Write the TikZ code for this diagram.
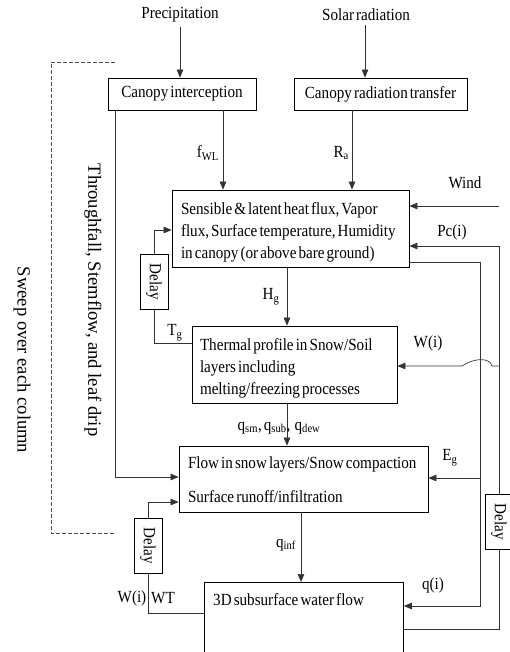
\documentclass[tikz,border=0pt]{standalone}
\usepackage{fontspec}
\setmainfont{Liberation Serif}[FakeStretch=0.89, WordSpace={0.55,0,0}]
\newfontfamily\rotfont{Liberation Serif}
\newcommand{\tightsp}{\spaceskip=0pt\xspaceskip=0pt\relax}
\newcommand{\downstrut}{\rule{0pt}{20pt}}
\usetikzlibrary{arrows.meta,calc}
\begin{document}
\begin{tikzpicture}[x=1pt,y=-1pt,
  every node/.style={font=\fontsize{17}{22}\selectfont},
  box/.style={draw, line width=0.8pt, inner sep=0pt},
  tbox/.style={box, align=left, inner ysep=0pt},
  dbox/.style={box, rotate=-90, minimum width=55pt, minimum height=28pt},
  conn/.style={line width=0.7pt, draw=black!80},
  arr/.style={conn, -{Triangle[length=8pt,width=6.5pt]}},
  lbl/.style={inner sep=0pt},
  rlbl/.style={lbl, rotate=-90, font=\rotfont\fontsize{18.6}{22}\selectfont},
  dashln/.style={line width=0.7pt, draw=black!70, dash pattern=on 4pt off 2pt}]
\clip (0,0) rectangle (510,652);
\fill[white] (0,0) rectangle (510,652);

% coordinates for x and y levels
\coordinate (xfwl) at (223,0);
\coordinate (xra) at (352,0);
\coordinate (xtf) at (115,0);
\coordinate (xh) at (287,0);
\coordinate (xqinf) at (301,0);
\coordinate (xr1) at (480,0);
\coordinate (xr2) at (499,0);
\coordinate (xsol) at (365,0);
\coordinate (ypc) at (0,246);
\coordinate (ys) at (0,262);
\coordinate (ywi) at (0,366);
\coordinate (yeg) at (0,478);
\coordinate (yqi) at (0,606);
\coordinate (yso) at (0,629);
\coordinate (yd1) at (0,230);
\coordinate (ytg) at (0,343);
\coordinate (ytf) at (0,477);
\coordinate (yd2) at (0,502);
\coordinate (ywt) at (0,613);
\coordinate (windsrc) at (499,206);

% texts at top
\node[lbl] (prec) at (180,15) {Precipitation};
\node[lbl] (solar) at (366,15) {Solar radiation};

% boxes
\node[box, minimum width=148pt, minimum height=32pt] (ci) at (182,94) {Canopy interception};
\node[box, minimum width=173pt, minimum height=32pt] (crt) at (380.5,94) {Canopy radiation transfer};
\node[tbox, inner xsep=9pt, text width=219pt, minimum height=77pt] (sens) at (290.5,228.5)
  {\tightsp\downstrut\mbox{Sensible \& latent heat flux, Vapor}\\ \mbox{flux, Surface temperature, Humidity}\\ \mbox{in canopy (or above bare ground)}};
\node[tbox, inner xsep=8pt, text width=189pt, minimum height=77pt] (thermal) at (294.5,364.5)
  {\tightsp\downstrut\mbox{Thermal profile in Snow/Soil}\\ \mbox{layers including}\\ \mbox{melting/freezing processes}};
\node[tbox, inner xsep=9pt, text width=231pt, minimum height=66pt] (flow) at (303.5,479)
  {\tightsp\rule{0pt}{14pt}\mbox{Flow in snow layers/Snow compaction}\\[12pt] \mbox{Surface runoff/infiltration}};
\node[box, anchor=north west, minimum width=199pt, minimum height=90pt] (sub) at (204,582) {};
\node[lbl, anchor=west] (subt) at (213,600) {3D subsurface water flow};
\node[dbox] (d1) at (154,281.5) {Delay};
\node[dbox] (d2) at (148,545.5) {Delay};
\node[dbox] (d3) at (499,522) {Delay};

% labels
\node[lbl, anchor=east] (lfwl) at (219,153) {f\textsubscript{WL}};
\node[lbl, anchor=east] (lra) at (349,153) {R\textsubscript{a}};
\node[lbl] (lhg) at (271,297) {H\textsubscript{g}};
\node[lbl] (ltg) at (175,333) {T\textsubscript{g}};
\node[lbl] (lq) at (279,428) {q\textsubscript{sm}, q\textsubscript{sub}, \ q\textsubscript{dew}};
\node[lbl] (lqinf) at (286,545) {q\textsubscript{inf}};
\node[lbl] (leg) at (450,458) {E\textsubscript{g}};
\node[lbl] (lwind) at (465,183) {Wind};
\node[lbl] (lpc) at (452,232) {Pc(i)};
\node[lbl] (lwi) at (428,343) {W(i)};
\node[lbl] (lqi) at (433,585) {q(i)};
\node[lbl] (lwi2) at (132,598) {W(i)};
\node[lbl] (lwt) at (163,598) {WT};
\node[rlbl] (ltf) at (93,300) {Throughfall, Stemflow, and leaf drip};
\node[rlbl] (lsw) at (22,360) {Sweep over each column};

% dashed bracket
\coordinate (da) at (115,62);
\coordinate (db) at (51,62);
\coordinate (dc) at (51,533);
\coordinate (dd) at (115,533);
\draw[dashln] (da) -- (db) -- (dc) -- (dd);

% connectors
\draw[arr] ($(prec.south)+(0,4)$) -- (ci.north -| prec);
\draw[arr] ($(solar.south -| xsol)+(0,4)$) -- (crt.north -| xsol);
\draw[arr] (ci.south -| xfwl) -- (sens.north -| xfwl);
\draw[arr] (crt.south -| xra) -- (sens.north -| xra);
\draw[arr] (ci.south -| xtf) -- (xtf |- ytf) -- (flow.west |- ytf);
\draw[arr] (windsrc) -- (sens.east |- windsrc);
\draw[arr] (sens.south -| xh) -- (thermal.north -| xh);
\draw[arr] (thermal.south -| xh) -- (flow.north -| xh);
\draw[arr] (flow.south -| xqinf) -- (sub.north -| xqinf);
\draw[arr] (d1.west) -- (d1.west |- yd1) -- (sens.west |- yd1);
\draw[conn] (d1.east) -- (d1.east |- ytg) -- (thermal.west |- ytg);
\draw[conn] (sub.west |- ywt) -- (d2.east |- ywt) -- (d2.east);
\draw[arr] (d2.west) -- (d2.west |- yd2) -- (flow.west |- yd2);
\draw[arr] (sens.east |- ys) -- (xr1 |- ys) -- (xr1 |- yqi) -- (sub.east |- yqi);
\draw[arr] (xr1 |- yeg) -- (flow.east |- yeg);
\draw[conn] (sub.east |- yso) -- (xr2 |- yso) -- (d3.east);
\draw[arr] (d3.west) -- (xr2 |- ypc) -- (sens.east |- ypc);
\draw[arr] (xr2 |- ywi) -- ++(-7,0) .. controls ++(-2,-8) and ++(14,-9) .. ++(-30,0) -- (thermal.east |- ywi);
\end{tikzpicture}
\end{document}
